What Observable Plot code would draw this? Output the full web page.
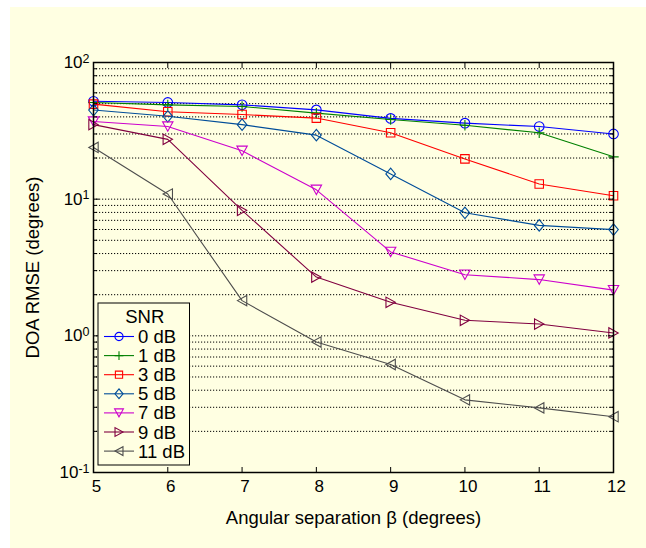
<!DOCTYPE html>
<html><head><meta charset="utf-8">
<script src="https://cdn.jsdelivr.net/npm/d3@7"></script>
<script src="https://cdn.jsdelivr.net/npm/@observablehq/plot@0.6"></script>
<style>
html,body{margin:0;padding:0;background:#fff;}
#bg{position:absolute;left:10px;top:7px;width:636px;height:541px;background:#ffffe2;}
#chart{position:absolute;left:0;top:0;}
</style></head><body>
<div id="bg"></div><div id="chart"></div>
<script>
// ---- data ----
const beta = [5, 6, 7, 8, 9, 10, 11, 12];
const seriesNames = ["0 dB", "1 dB", "3 dB", "5 dB", "7 dB", "9 dB", "11 dB"];
const rmse0  = [52, 51, 49, 45, 39, 36, 34, 30];
const rmse1  = [51, 49, 47.7, 42.6, 38.3, 34.7, 30.6, 20.4];
const rmse3  = [49.6, 43.6, 41.6, 39.2, 30.6, 19.7, 12.9, 10.6];
const rmse5  = [44.9, 40.4, 35.1, 29.4, 15.3, 7.95, 6.43, 5.99];
const rmse7  = [37, 34, 22.6, 11.7, 4.11, 2.8, 2.58, 2.16];
const rmse9  = [35.1, 27.4, 8.28, 2.69, 1.76, 1.3, 1.22, 1.05];
const rmse11 = [23.9, 10.9, 1.81, 0.9, 0.617, 0.34, 0.297, 0.256];
const allSeries = [rmse0, rmse1, rmse3, rmse5, rmse7, rmse9, rmse11];
const colors = ["#0000ff", "#008000", "#ff0000", "#004d99", "#cc00cc", "#800040", "#4d4d4d"];
const markerKinds = ["circle", "plus", "square", "diamond", "triangle", "triangle", "triangle"];
const rotations = [0, 0, 0, 0, 180, 90, -90];
const xTickValues = [5, 6, 7, 8, 9, 10, 11, 12];
const yMajorTicks = [0.1, 1, 10, 100];
const yTickLabels = ["10^-1", "10^0", "10^1", "10^2"];
const xLabel = "Angular separation β (degrees)";
const yLabel = "DOA RMSE (degrees)";
const legendTitle = "SNR";

// minor (log) ticks
const yMinorTicks = [];
for (const d of [0.1, 1, 10]) for (let m = 2; m <= 9; m++) yMinorTicks.push(+(d * m).toFixed(3));
const yGrid = [...yMajorTicks, ...yMinorTicks];

// ---- symbols (MATLAB-like) ----
const rOf = s => Math.sqrt(s / Math.PI);
const symCircle = {draw(c, s) { const r = rOf(s); c.moveTo(r, 0); c.arc(0, 0, r, 0, 2 * Math.PI); c.closePath(); }};
const symPlus = {draw(c, s) { const r = rOf(s); c.moveTo(-r, 0); c.lineTo(r, 0); c.moveTo(0, -r); c.lineTo(0, r); }};
const symSquare = {draw(c, s) { const r = rOf(s) * 0.85; c.moveTo(-r, -r); c.lineTo(r, -r); c.lineTo(r, r); c.lineTo(-r, r); c.closePath(); }};
const symDiamond = {draw(c, s) { const r = rOf(s); c.moveTo(0, -r * 1.2); c.lineTo(r, 0); c.lineTo(0, r * 1.2); c.lineTo(-r, 0); c.closePath(); }};
const symTriangle = {draw(c, s) { const r = rOf(s); c.moveTo(0, -r * 0.9); c.lineTo(r, r * 0.9); c.lineTo(-r, r * 0.9); c.closePath(); }};
const symMap = {circle: symCircle, plus: symPlus, square: symSquare, diamond: symDiamond, triangle: symTriangle};
const markerR = {circle: 4.8, plus: 5.2, square: 5, diamond: 4.8, triangle: 5.2};

const rows = allSeries.map(vals => beta.map((b, i) => ({beta: b, rmse: vals[i]})));

const seriesMarks = [];
rows.forEach((data, k) => {
  seriesMarks.push(Plot.line(data, {x: "beta", y: "rmse", stroke: colors[k], strokeWidth: 1.1}));
  seriesMarks.push(Plot.dot(data, {x: "beta", y: "rmse", stroke: colors[k], fill: "none", strokeWidth: 1.1,
    symbol: symMap[markerKinds[k]], r: markerR[markerKinds[k]], rotate: rotations[k]}));
});

const fontFamily = "'Liberation Sans', Arial, Helvetica, sans-serif";
const plot = Plot.plot({
  width: 646, height: 548,
  marginLeft: 93, marginRight: 33, marginTop: 62, marginBottom: 76,
  style: {background: "transparent", fontFamily, fontSize: "17px", color: "#000", overflow: "visible"},
  x: {domain: [5, 12]},
  y: {type: "log", domain: [0.1, 100]},
  marks: [
    Plot.gridY({ticks: yGrid, stroke: "#000", strokeOpacity: 1, strokeDasharray: "1.2,1.8", strokeWidth: 1}),
    ...seriesMarks,
    Plot.axisX({ticks: xTickValues, tickSize: -5, tickPadding: 12, tickFormat: d => String(d),
      label: xLabel, labelAnchor: "center", labelOffset: 51, labelArrow: "none"}),
    Plot.axisX({anchor: "top", ticks: xTickValues, tickSize: -5, tickFormat: () => "", label: null}),
    Plot.axisY({ticks: yMajorTicks, tickSize: -6, tickPadding: 10,
      tickFormat: d => yTickLabels[yMajorTicks.indexOf(d)] ?? "",
      label: yLabel, labelAnchor: "center", labelOffset: 68, labelArrow: "none"}),
    Plot.axisY({ticks: yMinorTicks, tickSize: -4, tickFormat: () => "", label: null}),
    Plot.axisY({anchor: "right", ticks: yMajorTicks, tickSize: -6, tickFormat: () => "", label: null}),
    Plot.axisY({anchor: "right", ticks: yMinorTicks, tickSize: -4, tickFormat: () => "", label: null}),
    Plot.frame({stroke: "#000", strokeWidth: 1.5})
  ]
});

const svg = d3.select(plot);
// superscript exponents on y tick labels
svg.selectAll('g[aria-label="y-axis tick label"] text').each(function () {
  const t = d3.select(this);
  const s = t.text();
  if (!s.startsWith("10^")) return;
  t.text("10");
  t.append("tspan").attr("dy", "-0.42em").attr("font-size", "12.5px").text(s.slice(3));
});
// MATLAB-like slight right offset of x tick labels (keep Plot's own transform)
svg.selectAll('g[aria-label="x-axis tick label"]').each(function () {
  const prev = this.getAttribute("transform") || "";
  this.setAttribute("transform", ("translate(3,0) " + prev).trim());
});
// larger axis titles
svg.selectAll('g[aria-label="x-axis label"], g[aria-label="y-axis label"]').attr("font-size", "18.5px");

// legend box
const lg = svg.append("g").attr("font-family", fontFamily).attr("font-size", "18.5px");
const lx = 98, ly = 303, lw = 91.5, lh = 162, rowH = 19.1;
lg.append("rect").attr("x", lx).attr("y", ly).attr("width", lw).attr("height", lh)
  .attr("fill", "#ffffe2").attr("stroke", "#000").attr("stroke-width", 1);
lg.append("text").attr("x", lx + lw / 2 + 1).attr("y", ly + 20).attr("text-anchor", "middle").text(legendTitle);
seriesNames.forEach((name, k) => {
  const cy = ly + 33.5 + k * rowH;
  lg.append("line").attr("x1", lx + 6).attr("x2", lx + 36).attr("y1", cy).attr("y2", cy)
    .attr("stroke", colors[k]).attr("stroke-width", 1.1);
  const kind = markerKinds[k];
  const r = markerR[kind] * 0.85;
  lg.append("path").attr("d", d3.symbol(symMap[kind], Math.PI * r * r)())
    .attr("transform", `translate(${lx + 21},${cy}) rotate(${rotations[k]})`)
    .attr("fill", "none").attr("stroke", colors[k]).attr("stroke-width", 1.1);
  lg.append("text").attr("x", lx + 40).attr("y", cy + 6.5).attr("text-anchor", "start").text(name);
});

document.getElementById("chart").appendChild(plot);
</script>
</body></html>
